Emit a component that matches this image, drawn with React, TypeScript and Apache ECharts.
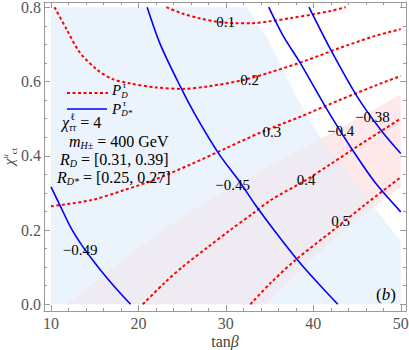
import React, { useEffect, useRef } from "react";
import * as echarts from "echarts";

const FONT = '"Liberation Serif", "Times New Roman", serif';
const FRAME = "#9a9a9a";
const TICKLABEL = "#555555";

// axis ranges (with frame padding) and tick labels
const X_MIN = 9.2;
const X_MAX = 50.6;
const Y_MIN = -0.018;
const Y_MAX = 0.814;
const xTickLabels = [10, 20, 30, 40, 50];
const yTickLabels = [0, 0.2, 0.4, 0.6, 0.8];

// shaded regions (tanβ, χ)
const rdAllowed: number[][] = [
  [10, 0], [10, 0.8], [32.4, 0.8], [34.9, 0.71], [37.8, 0.57], [40.5, 0.46],
  [44, 0.35], [47, 0.26], [50, 0.17], [50, 0],
];
const rdStarUpper: number[][] = [
  [11.9, 0], [14, 0.04], [17, 0.097], [20, 0.152], [23, 0.203], [26, 0.25],
  [29, 0.293], [32, 0.333], [35, 0.372], [38, 0.41], [41, 0.448], [44, 0.487],
  [47, 0.525], [50, 0.564],
];
const rdStarLower: number[][] = [
  [50, 0.316], [46.5, 0.255], [43.3, 0.195], [40, 0.125], [37, 0.055], [34.5, 0],
];

// P_D contours (red dashed)
const pd01 = [[23.2, 0.8], [25, 0.783], [27, 0.77], [29, 0.761], [31, 0.757], [33, 0.757], [35, 0.762], [37.5, 0.771], [40, 0.781], [42, 0.79], [43.7, 0.8]];
const pd02 = [[10.4, 0.8], [11.8, 0.74], [13.3, 0.678], [15.3, 0.631], [17, 0.607], [19, 0.595], [22, 0.584], [25, 0.58], [28, 0.587], [32, 0.604], [35, 0.624], [39, 0.655], [43, 0.69], [47, 0.722], [50, 0.741]];
const pd03 = [[10, 0.264], [14.5, 0.28], [18.3, 0.307], [22, 0.337], [26, 0.377], [30, 0.42], [34, 0.463], [38.5, 0.505], [43, 0.55], [47, 0.588], [50, 0.615]];
const pd04 = [[20.5, 0], [23, 0.058], [25, 0.1], [28, 0.155], [30.5, 0.2], [33, 0.243], [35.1, 0.28], [39.1, 0.334], [42, 0.378], [46, 0.44], [50, 0.5]];
const pd05 = [[32.8, 0], [35.1, 0.057], [38, 0.12], [42.3, 0.2], [46, 0.27], [50, 0.342]];

// P_D* contours (blue solid)
const pds049 = [[10, 0.316], [11, 0.268], [12.3, 0.205], [13.5, 0.16], [15, 0.112], [16.5, 0.068], [17.8, 0.033], [19.1, 0]];
const pds045 = [[21, 0.8], [22.5, 0.7], [24.8, 0.586], [26.5, 0.51], [29.2, 0.405], [31.7, 0.326], [33.3, 0.27], [35.5, 0.2], [38, 0.125], [40.5, 0.058], [42.8, 0]];
const pds040 = [[34.9, 0.8], [36.5, 0.725], [38.5, 0.65], [40.5, 0.568], [42.2, 0.5], [44.5, 0.415], [47, 0.33], [50, 0.249]];
const pds038 = [[39.5, 0.8], [42, 0.685], [45, 0.56], [47.7, 0.47], [50, 0.406]];

// contour labels [tanβ, χ, text]
const contourLabels: [number, number, string][] = [
  [29.98, 0.759, "0.1"], [32.73, 0.604, "0.2"], [35.25, 0.465, "0.3"],
  [39.19, 0.334, "0.4"], [43.12, 0.225, "0.5"], [13.32, 0.147, "\u22120.49"],
  [30.78, 0.321, "\u22120.45"], [43.12, 0.467, "\u22120.4"], [46.75, 0.505, "\u22120.38"],
];

const BLUE_FILL = "#ebf3fd";
const PINK_FILL = "#fde8ea";
const OVERLAP_FILL = "#eeecf2";

let mctx: CanvasRenderingContext2D | null = null;
function tw(text: string, font: string) {
  if (!mctx) mctx = document.createElement("canvas").getContext("2d");
  if (!mctx) return text.length * 7;
  mctx.font = font;
  return mctx.measureText(text).width;
}
function fnt(size: number, italic: boolean) {
  return `${italic ? "italic " : ""}${size}px ${FONT}`;
}
function txt(t: string, x: number, y: number, font: string, fill = "#000") {
  return {
    type: "text", x, y, silent: true, z: 20,
    style: { text: t, font, fill, textAlign: "left", textVerticalAlign: "middle" },
  };
}
type Tok = { t?: string; i?: boolean; sub?: string; sup?: string; si?: boolean; pi?: boolean };
function mathLine(toks: Tok[], left: number, cy: number, size: number) {
  const out: any[] = [];
  let x = left;
  const ss = Math.round(size * 0.6);
  for (const k of toks) {
    let italicShift = 0;
    if (k.t) {
      const f = fnt(size, !!k.i);
      out.push(txt(k.t, x, cy, f));
      x += tw(k.t, f);
      if (k.i) italicShift = 1.5;
    }
    let w = 0;
    if (k.sup) {
      const ff = fnt(ss, !!k.pi);
      out.push(txt(k.sup, x + italicShift, cy - size * 0.36, ff));
      w = Math.max(w, tw(k.sup, ff) + italicShift);
    }
    if (k.sub) {
      const ff = fnt(ss, !!k.si);
      out.push(txt(k.sub, x, cy + size * 0.3, ff));
      w = Math.max(w, tw(k.sub, ff));
    }
    x += w;
  }
  return out;
}

function xAx(pos: string, interval: number, len: number, main: boolean) {
  return {
    type: "value", position: pos, min: X_MIN, max: X_MAX,
    minInterval: interval, maxInterval: interval, z: 10,
    axisLine: { show: main, onZero: false, lineStyle: { color: FRAME, width: 1 } },
    axisTick: { show: true, inside: true, length: len, lineStyle: { color: FRAME, width: 1 } },
    axisLabel: main && pos === "bottom"
      ? {
          show: true, color: TICKLABEL, fontFamily: FONT, fontSize: 16, margin: 4,
          formatter: (v: number) => {
            const m = xTickLabels.find((t) => Math.abs(t - v) < 1e-6);
            return m === undefined ? "" : String(m);
          },
        }
      : { show: false },
    splitLine: { show: false }, minorTick: { show: false },
    ...(main && pos === "bottom"
      ? {
          name: "{r|tan}{i|\u03b2}", nameLocation: "middle", nameGap: 22, nameMoveOverlap: false,
          nameTextStyle: {
            color: "#444", fontFamily: FONT, fontSize: 16,
            rich: {
              r: { fontFamily: FONT, fontSize: 16, color: "#444" },
              i: { fontFamily: FONT, fontSize: 16, fontStyle: "italic", color: "#444" },
            },
          },
        }
      : {}),
  };
}
function yAx(pos: string, interval: number, len: number, main: boolean) {
  return {
    type: "value", position: pos, min: Y_MIN, max: Y_MAX,
    minInterval: interval, maxInterval: interval, z: 10,
    axisLine: { show: main, onZero: false, lineStyle: { color: FRAME, width: 1 } },
    axisTick: { show: true, inside: true, length: len, lineStyle: { color: FRAME, width: 1 } },
    axisLabel: main && pos === "left"
      ? {
          show: true, color: TICKLABEL, fontFamily: FONT, fontSize: 16, margin: 3,
          formatter: (v: number) => {
            const m = yTickLabels.find((t) => Math.abs(t - v) < 1e-6);
            return m === undefined ? "" : m.toFixed(1);
          },
        }
      : { show: false },
    splitLine: { show: false }, minorTick: { show: false },
    ...(main && pos === "left"
      ? {
          name: "{i|\u03c7}{sup|u}{sub|ct}", nameLocation: "middle", nameGap: 26, nameRotate: 90,
          nameMoveOverlap: false,
          nameTextStyle: {
            color: "#444", fontFamily: FONT, fontSize: 15,
            rich: {
              i: { fontFamily: FONT, fontSize: 15, fontStyle: "italic", color: "#444", lineHeight: 18, verticalAlign: "middle" },
              sup: { fontFamily: FONT, fontSize: 9, fontStyle: "italic", color: "#444", lineHeight: 9, verticalAlign: "top" },
              sub: { fontFamily: FONT, fontSize: 9, color: "#444", lineHeight: 9, verticalAlign: "bottom" },
            },
          },
        }
      : {}),
  };
}

function lineSeries(data: number[][], red: boolean) {
  return {
    type: "line", data, xAxisIndex: 0, yAxisIndex: 0, showSymbol: false, symbol: "none",
    smooth: 0.3, silent: true, z: 3, animation: false,
    lineStyle: red
      ? { color: "#ff0000", width: 2, type: [3, 2.5] }
      : { color: "#0000ff", width: 1.6, type: "solid" },
  };
}

export default function App() {
  const ref = useRef<HTMLDivElement>(null);
  useEffect(() => {
    document.body.style.margin = "0";
    if (!ref.current) return;
    const chart = echarts.init(ref.current, null, { renderer: "svg" });
    const band = [...rdStarUpper, ...rdStarLower];
    const graphics: any[] = [
      { type: "line", silent: true, z: 20, shape: { x1: 67, y1: 93, x2: 108, y2: 93 }, style: { stroke: "#ff0000", lineWidth: 2, lineDash: [3, 2.5] } },
      { type: "line", silent: true, z: 20, shape: { x1: 67, y1: 109, x2: 107, y2: 109 }, style: { stroke: "#0000ff", lineWidth: 1.6 } },
      ...mathLine([{ t: "P", i: true, sup: "\u03c4", pi: true, sub: "D", si: true }], 112, 90, 15),
      ...mathLine([{ t: "P", i: true, sup: "\u03c4", pi: true, sub: "D*", si: true }], 112, 108.5, 15),
      ...mathLine([{ t: "\u03c7", i: true, sup: "\u2113", sub: "\u03c4\u03c4", si: true }, { t: " = 4" }], 62, 122.5, 16),
      ...mathLine([{ t: "m", i: true, sub: "H\u00b1", si: true }, { t: " = 400 GeV" }], 69, 141, 16),
      ...mathLine([{ t: "R", i: true, sub: "D", si: true }, { t: " = [0.31, 0.39]" }], 60, 159, 16),
      ...mathLine([{ t: "R", i: true, sub: "D*", si: true }, { t: " = [0.25, 0.27]" }], 57, 177, 16),
      ...mathLine([{ t: "(" }, { t: "b", i: true }, { t: ")" }], 376, 294, 17),
    ];
    chart.setOption({
      animation: false,
      backgroundColor: "#ffffff",
      grid: { left: 44, right: 3, top: 2, bottom: 39, containLabel: false, outerBoundsMode: "none" },
      xAxis: [xAx("bottom", 10, 6, true), xAx("bottom", 2, 3, false), xAx("top", 10, 6, true), xAx("top", 2, 3, false)],
      yAxis: [yAx("left", 0.2, 6, true), yAx("left", 0.05, 3, false), yAx("right", 0.2, 6, true), yAx("right", 0.05, 3, false)],
      series: [
        {
          type: "custom", xAxisIndex: 0, yAxisIndex: 0, silent: true, z: 1, clip: true,
          data: [[30, 0.4]],
          renderItem: (_p: any, api: any) => {
            const blue = rdAllowed.map((d) => api.coord(d));
            const b = band.map((d) => api.coord(d));
            return {
              type: "group",
              children: [
                { type: "polygon", shape: { points: blue }, style: { fill: BLUE_FILL } },
                { type: "polygon", shape: { points: b }, style: { fill: PINK_FILL } },
                {
                  type: "polygon", shape: { points: b }, style: { fill: OVERLAP_FILL },
                  clipPath: { type: "polygon", shape: { points: blue } },
                },
              ],
            };
          },
        },
        lineSeries(pd01, true), lineSeries(pd02, true), lineSeries(pd03, true),
        lineSeries(pd04, true), lineSeries(pd05, true),
        lineSeries(pds049, false), lineSeries(pds045, false), lineSeries(pds040, false), lineSeries(pds038, false),
        {
          type: "custom", xAxisIndex: 0, yAxisIndex: 0, silent: true, z: 5, clip: false,
          data: contourLabels.map((d) => [d[0], d[1]]),
          renderItem: (p: any, api: any) => {
            const d = contourLabels[p.dataIndex];
            const c = api.coord([d[0], d[1]]);
            return {
              type: "text", x: c[0], y: c[1],
              style: { text: d[2], font: `15px ${FONT}`, fill: "#000", textAlign: "center", textVerticalAlign: "middle" },
            };
          },
        },
      ],
      graphic: { elements: graphics },
    });
    return () => chart.dispose();
  }, []);
  return <div ref={ref} style={{ position: "absolute", left: 0, top: 0, width: 409, height: 350 }} />;
}
